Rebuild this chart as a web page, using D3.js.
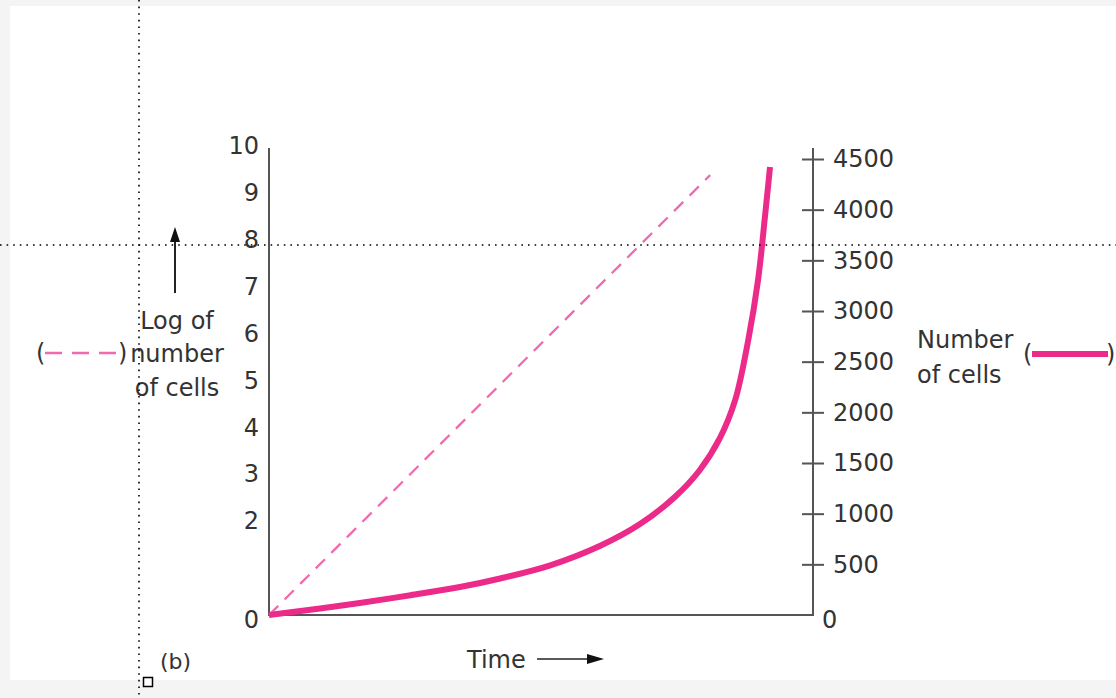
<!DOCTYPE html>
<html>
<head>
<meta charset="utf-8">
<script src="https://cdn.jsdelivr.net/npm/d3@7"></script>
<style>
  html, body { margin: 0; padding: 0; background: #f4f4f4; }
  svg { display: block; }
  text { font-family: "DejaVu Sans", Verdana, sans-serif; fill: #333; }
</style>
</head>
<body>
<svg id="chart" width="1116" height="698"></svg>
<script>
// ---- data ----
const timePoints   = [0, 0.94, 1.67, 2.6, 3.51, 4.25, 5.17, 6.08, 6.82, 7.46, 7.92, 8.29, 8.57, 8.81, 8.99, 9.12, 9.21];
const cellCounts   = [0, 64, 118, 195, 276, 360, 490, 681, 898, 1164, 1431, 1747, 2122, 2714, 3306, 3947, 4421];
const logTime      = [0, 8.11];
const logCounts    = [0, 9.38];
const leftTicks    = [0, 2, 3, 4, 5, 6, 7, 8, 9, 10];
const rightTicks   = [0, 500, 1000, 1500, 2000, 2500, 3000, 3500, 4000, 4500];

const solidColor = "#ec2a8a";
const dashColor  = "#f06aae";
const axisColor  = "#555";
const FONT = "DejaVu Sans, Verdana, sans-serif";

const svg = d3.select("#chart");

// panel background
svg.append("rect").attr("x", 10).attr("y", 6).attr("width", 1106).attr("height", 674).attr("fill", "#fff");

const x = d3.scaleLinear().domain([0, 10]).range([269, 813]);
const yL = d3.scaleLinear().domain([0, 10]).range([615, 146]);
const yR = d3.scaleLinear().domain([0, 4500]).range([615, 159]);

// axes lines
const axTop = 148;
svg.append("line").attr("x1", 269).attr("x2", 269).attr("y1", axTop).attr("y2", 615)
  .attr("stroke", axisColor).attr("stroke-width", 2);
svg.append("line").attr("x1", 813).attr("x2", 813).attr("y1", axTop).attr("y2", 615)
  .attr("stroke", axisColor).attr("stroke-width", 2);
svg.append("line").attr("x1", 268).attr("x2", 814).attr("y1", 615).attr("y2", 615)
  .attr("stroke", axisColor).attr("stroke-width", 2);

// left axis labels
const gL = svg.append("g").attr("transform", "translate(269,0)")
  .call(d3.axisLeft(yL).tickValues(leftTicks).tickSize(0).tickPadding(10).tickFormat(d3.format("d")));
gL.select(".domain").remove();
gL.selectAll("text").attr("font-size", 24).attr("fill", "#333").attr("font-family", FONT);
gL.selectAll(".tick").filter(d => d === 0).select("text").attr("dy", "0.5em");

// right axis
const gR = svg.append("g").attr("transform", "translate(813,0)")
  .call(d3.axisRight(yR).tickValues(rightTicks).tickSize(0).tickPadding(20).tickFormat(d3.format("d")));
gR.select(".domain").remove();
gR.selectAll(".tick line").remove();
gR.selectAll(".tick").filter(d => d !== 0).append("line")
  .attr("x1", -11).attr("x2", 11).attr("stroke", axisColor).attr("stroke-width", 2);
gR.selectAll("text").attr("font-size", 24).attr("fill", "#333").attr("font-family", FONT);
gR.selectAll(".tick").filter(d => d === 0).select("text").attr("x", 9).attr("dy", "0.5em");

// dashed log line
const logLine = d3.line().x((d, i) => x(logTime[i])).y(d => yL(d));
svg.append("path").datum(logCounts).attr("d", logLine)
  .attr("fill", "none").attr("stroke", dashColor).attr("stroke-width", 2.3)
  .attr("stroke-dasharray", "13,9");

// solid number curve
const numLine = d3.line().curve(d3.curveCatmullRom.alpha(0.5))
  .x((d, i) => x(timePoints[i])).y(d => yR(d));
svg.append("path").datum(cellCounts).attr("d", numLine)
  .attr("fill", "none").attr("stroke", solidColor).attr("stroke-width", 6)
  .attr("stroke-linecap", "butt");

// left axis title
const lt = svg.append("text").attr("x", 177).attr("font-size", 24).attr("text-anchor", "middle");
lt.append("tspan").attr("x", 177).attr("y", 329).text("Log of");
lt.append("tspan").attr("x", 177).attr("y", 362).text("number");
lt.append("tspan").attr("x", 177).attr("y", 396).text("of cells");

// up arrow
svg.append("line").attr("x1", 175).attr("x2", 175).attr("y1", 293).attr("y2", 238)
  .attr("stroke", "#222").attr("stroke-width", 2);
svg.append("path").attr("d", "M175,227 L170,242 L180,242 Z").attr("fill", "#111");

// left legend
svg.append("text").attr("x", 36).attr("y", 361).attr("font-size", 24).text("(");
svg.append("line").attr("x1", 45).attr("x2", 118).attr("y1", 353).attr("y2", 353)
  .attr("stroke", dashColor).attr("stroke-width", 2.5).attr("stroke-dasharray", "17,10");
svg.append("text").attr("x", 118).attr("y", 361).attr("font-size", 24).text(")");

// right title
const rt = svg.append("text").attr("x", 917).attr("font-size", 24);
rt.append("tspan").attr("x", 917).attr("y", 348).text("Number");
rt.append("tspan").attr("x", 917).attr("y", 383).text("of cells");
svg.append("text").attr("x", 1023).attr("y", 362).attr("font-size", 24).text("(");
svg.append("line").attr("x1", 1032).attr("x2", 1108).attr("y1", 354).attr("y2", 354)
  .attr("stroke", solidColor).attr("stroke-width", 6);
svg.append("text").attr("x", 1106).attr("y", 362).attr("font-size", 24).text(")");

// time label
svg.append("text").attr("x", 467).attr("y", 668).attr("font-size", 24).text("Time");
svg.append("line").attr("x1", 537).attr("x2", 590).attr("y1", 659).attr("y2", 659)
  .attr("stroke", "#222").attr("stroke-width", 1.5);
svg.append("path").attr("d", "M604,659 L587,654 L587,664 Z").attr("fill", "#111");

// (b)
svg.append("text").attr("x", 160).attr("y", 669).attr("font-size", 22).text("(b)");

// dotted guide lines
svg.append("line").attr("x1", 139).attr("x2", 139).attr("y1", 0).attr("y2", 698)
  .attr("stroke", "#000").attr("stroke-width", 1.6).attr("stroke-dasharray", "1.6,5");
svg.append("line").attr("x1", 0).attr("x2", 1116).attr("y1", 245).attr("y2", 245)
  .attr("stroke", "#000").attr("stroke-width", 1.6).attr("stroke-dasharray", "1.6,5");

// small square handle
svg.append("rect").attr("x", 143.5).attr("y", 677.5).attr("width", 9).attr("height", 9)
  .attr("fill", "#fff").attr("stroke", "#000").attr("stroke-width", 1.5);
</script>
</body>
</html>
